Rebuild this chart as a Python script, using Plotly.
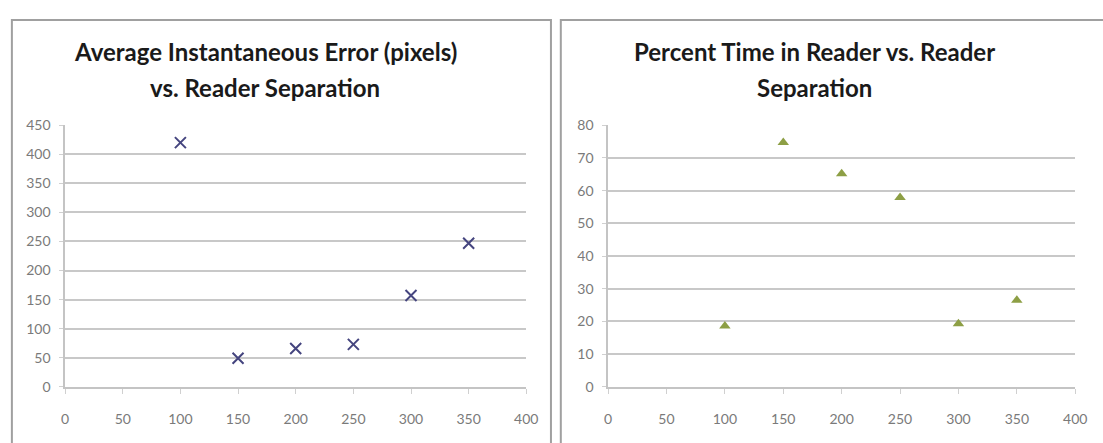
import plotly.graph_objects as go

separation = [100, 150, 200, 250, 300, 350]
avg_error = [420, 49, 66, 73, 157, 247]
pct_time = [18.6, 74.7, 65.2, 57.9, 19.3, 26.5]

left_title = ["Average Instantaneous Error (pixels)", "vs. Reader Separation"]
right_title = ["Percent Time in Reader vs. Reader", "Separation"]

W, H = 1103, 443
def px(x):
    return x / W
def py(y):
    return 1 - y / H

fig = go.Figure()
fig.add_trace(go.Scatter(
    x=separation, y=avg_error, mode="markers", xaxis="x", yaxis="y",
    marker=dict(symbol="x-thin", size=11, line=dict(width=2, color="#45457f"), color="#45457f"),
    showlegend=False))
fig.add_trace(go.Scatter(
    x=separation, y=pct_time, mode="markers", xaxis="x2", yaxis="y2",
    marker=dict(symbol="triangle-up", size=10, color="#8d9f45", line=dict(width=0)),
    showlegend=False))

ydom = [py(393), py(121)]
tickfont = dict(family="Lato, Carlito, sans-serif", size=14, color="#7a7a7a")
common_x = dict(range=[0, 400], tick0=0, dtick=50, showgrid=False, zeroline=False,
                showline=True, linecolor="#c4c4c4", linewidth=1.5,
                ticks="outside", ticklen=5, tickcolor="#d0d0d0", tickfont=tickfont,
                ticklabelstandoff=14, fixedrange=True)
common_y = dict(showgrid=True, gridcolor="#c8c8c8", gridwidth=1.5, zeroline=False,
                showline=True, linecolor="#c4c4c4", linewidth=1.5,
                ticks="outside", ticklen=4, tickcolor="#d0d0d0", tickfont=tickfont,
                ticklabelstandoff=6, fixedrange=True)

title_font = dict(family="Lato, Carlito, sans-serif", size=24, color="#1a1a1a")
annotations = []
for cx, lines in ((265, left_title), (822, right_title)):
    for ly, line in zip((45, 82), lines):
        annotations.append(dict(text="<b>" + line + "</b>", xref="paper", yref="paper",
                                x=px(cx), y=py(ly), xanchor="center", yanchor="middle",
                                showarrow=False, font=title_font))

fig.update_layout(
    width=W, height=H, margin=dict(l=0, r=0, t=0, b=0),
    paper_bgcolor="white", plot_bgcolor="white",
    xaxis=dict(domain=[px(62), px(530)], anchor="y", **common_x),
    yaxis=dict(domain=ydom, anchor="x", range=[0, 451], tick0=0, dtick=50, **common_y),
    xaxis2=dict(domain=[px(613), px(1087)], anchor="y2", **common_x),
    yaxis2=dict(domain=ydom, anchor="x2", range=[0, 80.2], tick0=0, dtick=10, **common_y),
    shapes=[
        dict(type="rect", xref="paper", yref="paper", x0=px(8), x1=px(555),
             y0=-0.1, y1=py(12.5), line=dict(color="#a0a0a0", width=2)),
        dict(type="rect", xref="paper", yref="paper", x0=px(565), x1=1.1,
             y0=-0.1, y1=py(12.5), line=dict(color="#a0a0a0", width=2)),
    ],
    annotations=annotations,
)

fig.write_html("out.html")
